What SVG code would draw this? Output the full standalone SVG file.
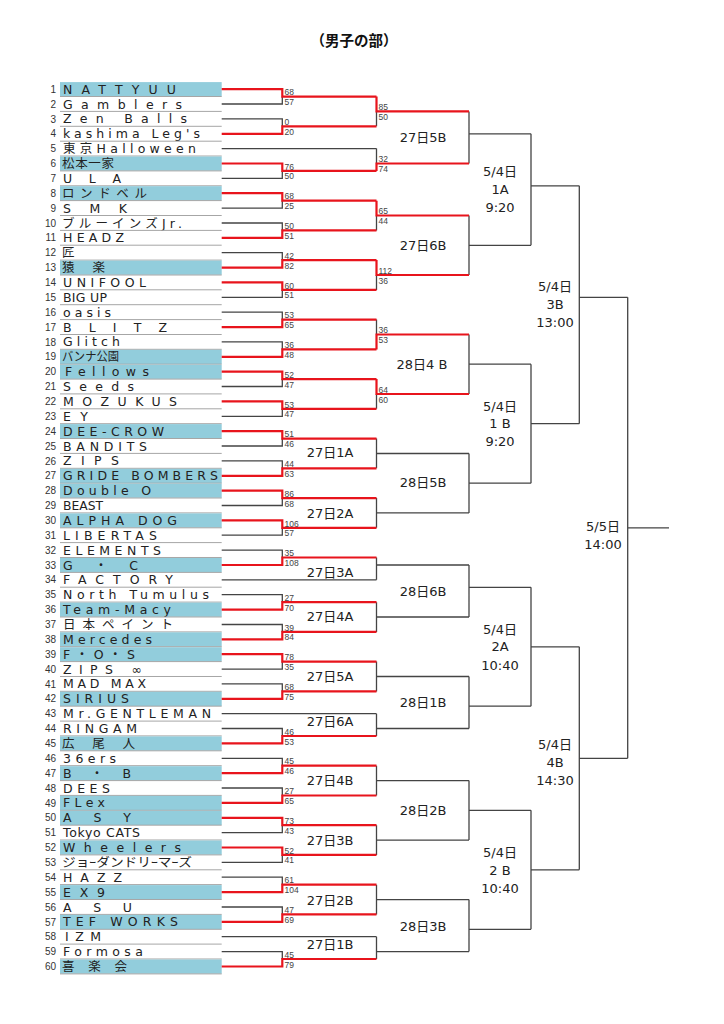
<svg xmlns="http://www.w3.org/2000/svg" width="724" height="1024" viewBox="0 0 724 1024">
<style>
.n{font-family:"Liberation Sans",sans-serif;font-size:10px;fill:#333;text-anchor:end}
.t{font-family:"DejaVu Sans","Noto Sans CJK JP",sans-serif;font-size:12.5px;fill:#222}
.s{font-family:"Liberation Sans",sans-serif;font-size:8.5px;fill:#444}
.l{font-family:"DejaVu Sans","Noto Sans CJK JP",sans-serif;font-size:13px;fill:#222;text-anchor:middle}
.hl{fill:#92cddc}
.sep{stroke:#a6a6a6;stroke-width:1}
.blk{stroke:#444;stroke-width:1.3;fill:none}
.red{stroke:#e8141c;stroke-width:2.2;fill:none}
</style>
<rect width="724" height="1024" fill="#fff"/>
<text x="354" y="45.5" text-anchor="middle" font-family="'Noto Sans CJK JP',sans-serif" font-weight="bold" font-size="14.5" fill="#111">（男子の部）</text>

<g id="teams">
<g id="team-1" transform="translate(0,89.1)"><rect class="hl" x="60" y="-7" width="161.7" height="14.2"/><text class="n" x="56" y="3.6">1</text><text class="t" x="63" y="4.5" textLength="113" lengthAdjust="spacing">NATTYUU</text><line class="sep" x1="60" x2="221.7" y1="7.4" y2="7.4"/></g>
<g id="team-2" transform="translate(0,104.0)"><text class="n" x="56" y="3.6">2</text><text class="t" x="63" y="4.5" textLength="119" lengthAdjust="spacing">Gamblers</text><line class="sep" x1="60" x2="221.7" y1="7.4" y2="7.4"/></g>
<g id="team-3" transform="translate(0,118.9)"><text class="n" x="56" y="3.6">3</text><text class="t" x="63" y="4.5" textLength="124" lengthAdjust="spacing">Zen Balls</text><line class="sep" x1="60" x2="221.7" y1="7.4" y2="7.4"/></g>
<g id="team-4" transform="translate(0,133.8)"><text class="n" x="56" y="3.6">4</text><text class="t" x="63" y="4.5" textLength="137" lengthAdjust="spacing">kashima Leg's</text><line class="sep" x1="60" x2="221.7" y1="7.4" y2="7.4"/></g>
<g id="team-5" transform="translate(0,148.6)"><text class="n" x="56" y="3.6">5</text><text class="t" x="63" y="4.5" textLength="133" lengthAdjust="spacing">東京Halloween</text><line class="sep" x1="60" x2="221.7" y1="7.4" y2="7.4"/></g>
<g id="team-6" transform="translate(0,163.5)"><rect class="hl" x="60" y="-7" width="161.7" height="14.2"/><text class="n" x="56" y="3.6">6</text><text class="t" x="62" y="4.5" textLength="52" lengthAdjust="spacing">松本一家</text><line class="sep" x1="60" x2="221.7" y1="7.4" y2="7.4"/></g>
<g id="team-7" transform="translate(0,178.4)"><text class="n" x="56" y="3.6">7</text><text class="t" x="63" y="4.5" textLength="58" lengthAdjust="spacing">ULA</text><line class="sep" x1="60" x2="221.7" y1="7.4" y2="7.4"/></g>
<g id="team-8" transform="translate(0,193.2)"><rect class="hl" x="60" y="-7" width="161.7" height="14.2"/><text class="n" x="56" y="3.6">8</text><text class="t" x="62" y="4.5" textLength="85" lengthAdjust="spacing">ロンドベル</text><line class="sep" x1="60" x2="221.7" y1="7.4" y2="7.4"/></g>
<g id="team-9" transform="translate(0,208.1)"><text class="n" x="56" y="3.6">9</text><text class="t" x="63" y="4.5" textLength="64" lengthAdjust="spacing">SMK</text><line class="sep" x1="60" x2="221.7" y1="7.4" y2="7.4"/></g>
<g id="team-10" transform="translate(0,223.0)"><text class="n" x="56" y="3.6">10</text><text class="t" x="62" y="4.5" textLength="120" lengthAdjust="spacing">ブルーインズJr.</text><line class="sep" x1="60" x2="221.7" y1="7.4" y2="7.4"/></g>
<g id="team-11" transform="translate(0,237.8)"><text class="n" x="56" y="3.6">11</text><text class="t" x="63" y="4.5" textLength="61" lengthAdjust="spacing">HEADZ</text><line class="sep" x1="60" x2="221.7" y1="7.4" y2="7.4"/></g>
<g id="team-12" transform="translate(0,252.7)"><text class="n" x="56" y="3.6">12</text><text class="t" x="62" y="4.5">匠</text><line class="sep" x1="60" x2="221.7" y1="7.4" y2="7.4"/></g>
<g id="team-13" transform="translate(0,267.6)"><rect class="hl" x="60" y="-7" width="161.7" height="14.2"/><text class="n" x="56" y="3.6">13</text><text class="t" x="62" y="4.5" textLength="43" lengthAdjust="spacing">猿　楽</text><line class="sep" x1="60" x2="221.7" y1="7.4" y2="7.4"/></g>
<g id="team-14" transform="translate(0,282.4)"><text class="n" x="56" y="3.6">14</text><text class="t" x="63" y="4.5" textLength="83" lengthAdjust="spacing">UNIFOOL</text><line class="sep" x1="60" x2="221.7" y1="7.4" y2="7.4"/></g>
<g id="team-15" transform="translate(0,297.3)"><text class="n" x="56" y="3.6">15</text><text class="t" x="63" y="4.5" textLength="44" lengthAdjust="spacing">BIG UP</text><line class="sep" x1="60" x2="221.7" y1="7.4" y2="7.4"/></g>
<g id="team-16" transform="translate(0,312.2)"><text class="n" x="56" y="3.6">16</text><text class="t" x="63" y="4.5" textLength="48" lengthAdjust="spacing">oasis</text><line class="sep" x1="60" x2="221.7" y1="7.4" y2="7.4"/></g>
<g id="team-17" transform="translate(0,327.1)"><text class="n" x="56" y="3.6">17</text><text class="t" x="63" y="4.5" textLength="104" lengthAdjust="spacing">BLITZ</text><line class="sep" x1="60" x2="221.7" y1="7.4" y2="7.4"/></g>
<g id="team-18" transform="translate(0,341.9)"><text class="n" x="56" y="3.6">18</text><text class="t" x="63" y="4.5" textLength="57" lengthAdjust="spacing">Glitch</text><line class="sep" x1="60" x2="221.7" y1="7.4" y2="7.4"/></g>
<g id="team-19" transform="translate(0,356.8)"><rect class="hl" x="60" y="-7" width="161.7" height="14.2"/><text class="n" x="56" y="3.6">19</text><text class="t" x="62" y="4.5" textLength="57" lengthAdjust="spacingAndGlyphs">バンナ公園</text><line class="sep" x1="60" x2="221.7" y1="7.4" y2="7.4"/></g>
<g id="team-20" transform="translate(0,371.7)"><rect class="hl" x="60" y="-7" width="161.7" height="14.2"/><text class="n" x="56" y="3.6">20</text><text class="t" x="65" y="4.5" textLength="84" lengthAdjust="spacing">Fellows</text><line class="sep" x1="60" x2="221.7" y1="7.4" y2="7.4"/></g>
<g id="team-21" transform="translate(0,386.5)"><text class="n" x="56" y="3.6">21</text><text class="t" x="63" y="4.5" textLength="71" lengthAdjust="spacing">Seeds</text><line class="sep" x1="60" x2="221.7" y1="7.4" y2="7.4"/></g>
<g id="team-22" transform="translate(0,401.4)"><text class="n" x="56" y="3.6">22</text><text class="t" x="63" y="4.5" textLength="114" lengthAdjust="spacing">MOZUKUS</text><line class="sep" x1="60" x2="221.7" y1="7.4" y2="7.4"/></g>
<g id="team-23" transform="translate(0,416.3)"><text class="n" x="56" y="3.6">23</text><text class="t" x="63" y="4.5" textLength="25" lengthAdjust="spacing">EY</text><line class="sep" x1="60" x2="221.7" y1="7.4" y2="7.4"/></g>
<g id="team-24" transform="translate(0,431.1)"><rect class="hl" x="60" y="-7" width="161.7" height="14.2"/><text class="n" x="56" y="3.6">24</text><text class="t" x="63" y="4.5" textLength="101" lengthAdjust="spacing">DEE-CROW</text><line class="sep" x1="60" x2="221.7" y1="7.4" y2="7.4"/></g>
<g id="team-25" transform="translate(0,446.0)"><text class="n" x="56" y="3.6">25</text><text class="t" x="63" y="4.5" textLength="84" lengthAdjust="spacing">BANDITS</text><line class="sep" x1="60" x2="221.7" y1="7.4" y2="7.4"/></g>
<g id="team-26" transform="translate(0,460.9)"><text class="n" x="56" y="3.6">26</text><text class="t" x="63" y="4.5" textLength="56" lengthAdjust="spacing">ZIPS</text><line class="sep" x1="60" x2="221.7" y1="7.4" y2="7.4"/></g>
<g id="team-27" transform="translate(0,475.8)"><rect class="hl" x="60" y="-7" width="161.7" height="14.2"/><text class="n" x="56" y="3.6">27</text><text class="t" x="63" y="4.5" textLength="155" lengthAdjust="spacing">GRIDE BOMBERS</text><line class="sep" x1="60" x2="221.7" y1="7.4" y2="7.4"/></g>
<g id="team-28" transform="translate(0,490.6)"><rect class="hl" x="60" y="-7" width="161.7" height="14.2"/><text class="n" x="56" y="3.6">28</text><text class="t" x="63" y="4.5" textLength="88" lengthAdjust="spacing">Double O</text><line class="sep" x1="60" x2="221.7" y1="7.4" y2="7.4"/></g>
<g id="team-29" transform="translate(0,505.5)"><text class="n" x="56" y="3.6">29</text><text class="t" x="63" y="4.5" textLength="40" lengthAdjust="spacingAndGlyphs">BEAST</text><line class="sep" x1="60" x2="221.7" y1="7.4" y2="7.4"/></g>
<g id="team-30" transform="translate(0,520.4)"><rect class="hl" x="60" y="-7" width="161.7" height="14.2"/><text class="n" x="56" y="3.6">30</text><text class="t" x="63" y="4.5" textLength="114" lengthAdjust="spacing">ALPHA DOG</text><line class="sep" x1="60" x2="221.7" y1="7.4" y2="7.4"/></g>
<g id="team-31" transform="translate(0,535.2)"><text class="n" x="56" y="3.6">31</text><text class="t" x="63" y="4.5" textLength="94" lengthAdjust="spacing">LIBERTAS</text><line class="sep" x1="60" x2="221.7" y1="7.4" y2="7.4"/></g>
<g id="team-32" transform="translate(0,550.1)"><text class="n" x="56" y="3.6">32</text><text class="t" x="63" y="4.5" textLength="98" lengthAdjust="spacing">ELEMENTS</text><line class="sep" x1="60" x2="221.7" y1="7.4" y2="7.4"/></g>
<g id="team-33" transform="translate(0,565.0)"><rect class="hl" x="60" y="-7" width="161.7" height="14.2"/><text class="n" x="56" y="3.6">33</text><text class="t" x="63" y="4.5" textLength="75" lengthAdjust="spacing">G・C</text><line class="sep" x1="60" x2="221.7" y1="7.4" y2="7.4"/></g>
<g id="team-34" transform="translate(0,579.8)"><text class="n" x="56" y="3.6">34</text><text class="t" x="63" y="4.5" textLength="110" lengthAdjust="spacing">FACTORY</text><line class="sep" x1="60" x2="221.7" y1="7.4" y2="7.4"/></g>
<g id="team-35" transform="translate(0,594.7)"><text class="n" x="56" y="3.6">35</text><text class="t" x="63" y="4.5" textLength="146" lengthAdjust="spacing">North Tumulus</text><line class="sep" x1="60" x2="221.7" y1="7.4" y2="7.4"/></g>
<g id="team-36" transform="translate(0,609.6)"><rect class="hl" x="60" y="-7" width="161.7" height="14.2"/><text class="n" x="56" y="3.6">36</text><text class="t" x="63" y="4.5" textLength="108" lengthAdjust="spacing">Team-Macy</text><line class="sep" x1="60" x2="221.7" y1="7.4" y2="7.4"/></g>
<g id="team-37" transform="translate(0,624.5)"><text class="n" x="56" y="3.6">37</text><text class="t" x="63" y="4.5" textLength="110" lengthAdjust="spacing">日本ペイント</text><line class="sep" x1="60" x2="221.7" y1="7.4" y2="7.4"/></g>
<g id="team-38" transform="translate(0,639.3)"><rect class="hl" x="60" y="-7" width="161.7" height="14.2"/><text class="n" x="56" y="3.6">38</text><text class="t" x="63" y="4.5" textLength="89" lengthAdjust="spacing">Mercedes</text><line class="sep" x1="60" x2="221.7" y1="7.4" y2="7.4"/></g>
<g id="team-39" transform="translate(0,654.2)"><rect class="hl" x="60" y="-7" width="161.7" height="14.2"/><text class="n" x="56" y="3.6">39</text><text class="t" x="63" y="4.5" textLength="72" lengthAdjust="spacing">F・O・S</text><line class="sep" x1="60" x2="221.7" y1="7.4" y2="7.4"/></g>
<g id="team-40" transform="translate(0,669.1)"><text class="n" x="56" y="3.6">40</text><text class="t" x="63" y="4.5" textLength="79" lengthAdjust="spacing">ZIPS ∞</text><line class="sep" x1="60" x2="221.7" y1="7.4" y2="7.4"/></g>
<g id="team-41" transform="translate(0,683.9)"><text class="n" x="56" y="3.6">41</text><text class="t" x="63" y="4.5" textLength="83" lengthAdjust="spacing">MAD MAX</text><line class="sep" x1="60" x2="221.7" y1="7.4" y2="7.4"/></g>
<g id="team-42" transform="translate(0,698.8)"><rect class="hl" x="60" y="-7" width="161.7" height="14.2"/><text class="n" x="56" y="3.6">42</text><text class="t" x="63" y="4.5" textLength="66" lengthAdjust="spacing">SIRIUS</text><line class="sep" x1="60" x2="221.7" y1="7.4" y2="7.4"/></g>
<g id="team-43" transform="translate(0,713.7)"><text class="n" x="56" y="3.6">43</text><text class="t" x="63" y="4.5" textLength="148" lengthAdjust="spacing">Mr.GENTLEMAN</text><line class="sep" x1="60" x2="221.7" y1="7.4" y2="7.4"/></g>
<g id="team-44" transform="translate(0,728.5)"><text class="n" x="56" y="3.6">44</text><text class="t" x="63" y="4.5" textLength="74" lengthAdjust="spacing">RINGAM</text><line class="sep" x1="60" x2="221.7" y1="7.4" y2="7.4"/></g>
<g id="team-45" transform="translate(0,743.4)"><rect class="hl" x="60" y="-7" width="161.7" height="14.2"/><text class="n" x="56" y="3.6">45</text><text class="t" x="62" y="4.5" textLength="73" lengthAdjust="spacing">広　尾　人</text><line class="sep" x1="60" x2="221.7" y1="7.4" y2="7.4"/></g>
<g id="team-46" transform="translate(0,758.3)"><text class="n" x="56" y="3.6">46</text><text class="t" x="63" y="4.5" textLength="53" lengthAdjust="spacing">36ers</text><line class="sep" x1="60" x2="221.7" y1="7.4" y2="7.4"/></g>
<g id="team-47" transform="translate(0,773.2)"><rect class="hl" x="60" y="-7" width="161.7" height="14.2"/><text class="n" x="56" y="3.6">47</text><text class="t" x="63" y="4.5" textLength="68" lengthAdjust="spacing">B・B</text><line class="sep" x1="60" x2="221.7" y1="7.4" y2="7.4"/></g>
<g id="team-48" transform="translate(0,788.0)"><text class="n" x="56" y="3.6">48</text><text class="t" x="63" y="4.5" textLength="47" lengthAdjust="spacing">DEES</text><line class="sep" x1="60" x2="221.7" y1="7.4" y2="7.4"/></g>
<g id="team-49" transform="translate(0,802.9)"><rect class="hl" x="60" y="-7" width="161.7" height="14.2"/><text class="n" x="56" y="3.6">49</text><text class="t" x="63" y="4.5" textLength="42" lengthAdjust="spacing">FLex</text><line class="sep" x1="60" x2="221.7" y1="7.4" y2="7.4"/></g>
<g id="team-50" transform="translate(0,817.8)"><rect class="hl" x="60" y="-7" width="161.7" height="14.2"/><text class="n" x="56" y="3.6">50</text><text class="t" x="63" y="4.5" textLength="68" lengthAdjust="spacing">ASY</text><line class="sep" x1="60" x2="221.7" y1="7.4" y2="7.4"/></g>
<g id="team-51" transform="translate(0,832.6)"><text class="n" x="56" y="3.6">51</text><text class="t" x="63" y="4.5" textLength="77" lengthAdjust="spacing">Tokyo CATS</text><line class="sep" x1="60" x2="221.7" y1="7.4" y2="7.4"/></g>
<g id="team-52" transform="translate(0,847.5)"><rect class="hl" x="60" y="-7" width="161.7" height="14.2"/><text class="n" x="56" y="3.6">52</text><text class="t" x="63" y="4.5" textLength="118" lengthAdjust="spacing">Wheelers</text><line class="sep" x1="60" x2="221.7" y1="7.4" y2="7.4"/></g>
<g id="team-53" transform="translate(0,862.4)"><text class="n" x="56" y="3.6">53</text><text class="t" x="62" y="4.5" textLength="130" lengthAdjust="spacingAndGlyphs">ジョｰダンドリｰマｰズ</text><line class="sep" x1="60" x2="221.7" y1="7.4" y2="7.4"/></g>
<g id="team-54" transform="translate(0,877.2)"><text class="n" x="56" y="3.6">54</text><text class="t" x="63" y="4.5" textLength="59" lengthAdjust="spacing">HAZZ</text><line class="sep" x1="60" x2="221.7" y1="7.4" y2="7.4"/></g>
<g id="team-55" transform="translate(0,892.1)"><rect class="hl" x="60" y="-7" width="161.7" height="14.2"/><text class="n" x="56" y="3.6">55</text><text class="t" x="63" y="4.5" textLength="42" lengthAdjust="spacing">EX9</text><line class="sep" x1="60" x2="221.7" y1="7.4" y2="7.4"/></g>
<g id="team-56" transform="translate(0,907.0)"><text class="n" x="56" y="3.6">56</text><text class="t" x="63" y="4.5" textLength="69" lengthAdjust="spacing">ASU</text><line class="sep" x1="60" x2="221.7" y1="7.4" y2="7.4"/></g>
<g id="team-57" transform="translate(0,921.9)"><rect class="hl" x="60" y="-7" width="161.7" height="14.2"/><text class="n" x="56" y="3.6">57</text><text class="t" x="63" y="4.5" textLength="115" lengthAdjust="spacing">TEF WORKS</text><line class="sep" x1="60" x2="221.7" y1="7.4" y2="7.4"/></g>
<g id="team-58" transform="translate(0,936.7)"><text class="n" x="56" y="3.6">58</text><text class="t" x="65" y="4.5" textLength="36" lengthAdjust="spacing">IZM</text><line class="sep" x1="60" x2="221.7" y1="7.4" y2="7.4"/></g>
<g id="team-59" transform="translate(0,951.6)"><text class="n" x="56" y="3.6">59</text><text class="t" x="63" y="4.5" textLength="80" lengthAdjust="spacing">Formosa</text><line class="sep" x1="60" x2="221.7" y1="7.4" y2="7.4"/></g>
<g id="team-60" transform="translate(0,966.5)"><rect class="hl" x="60" y="-7" width="161.7" height="14.2"/><text class="n" x="56" y="3.6">60</text><text class="t" x="62" y="4.5" textLength="65" lengthAdjust="spacing">喜　楽　会</text><line class="sep" x1="60" x2="221.7" y1="7.4" y2="7.4"/></g>
</g>

<g id="connectors">
<path class="blk" d="
M221.7,104.0H282.3V96.6 M221.7,118.9H282.3V126.3 M221.7,148.6H376.5 M221.7,178.4H282.3V170.9
M221.7,208.1H282.3V200.7 M221.7,223.0H282.3V230.4 M221.7,252.7H282.3V260.1 M221.7,297.3H282.3V289.9
M221.7,312.2H282.3V319.6 M221.7,341.9H282.3V349.4 M221.7,386.5H282.3V379.1 M221.7,416.3H282.3V408.8
M221.7,446.0H282.3V438.6 M221.7,460.9H282.3V468.3 M221.7,505.5H282.3V498.1 M221.7,535.2H282.3V527.8
M221.7,550.1H282.3V557.5 M221.7,579.8H376.5 M221.7,594.7H282.3V602.2 M221.7,624.5H282.3V631.9
M221.7,669.1H282.3V661.6 M221.7,683.9H282.3V691.4 M221.7,713.7H376.5 M221.7,728.5H282.3V736.0
M221.7,758.3H282.3V765.7 M221.7,788.0H282.3V795.5 M221.7,832.6H282.3V825.2 M221.7,862.4H282.3V854.9
M221.7,877.2H282.3V884.7 M221.7,907.0H282.3V914.4 M221.7,936.7H376.5 M221.7,951.6H282.3V959.0
M376.5,111.4V126.3 M376.5,148.6V163.5 M376.5,215.5V230.4 M376.5,275.0V289.9 M376.5,319.6V334.5 M376.5,394.0V408.8
M376.5,438.6V468.3 M376.5,453.5H469
M376.5,498.1V527.8 M376.5,512.9H469
M376.5,557.5V579.8 M376.5,565.0H469
M376.5,602.2V631.9 M376.5,617.0H469
M376.5,661.6V691.4 M376.5,676.5H469
M376.5,713.7V736.0 M376.5,728.5H469
M376.5,765.7V795.5 M376.5,780.6H469
M376.5,825.2V854.9 M376.5,840.1H469
M376.5,884.7V914.4 M376.5,899.6H469
M376.5,936.7V959.0 M376.5,951.6H469
M469,111.4V163.5 M469,133.8H531
M469,215.5V275.0 M469,245.3H531
M469,334.5V394.0 M469,364.2H531
M469,453.5V512.9 M469,483.2H531
M469,565.0V617.0 M469,587.3H531
M469,676.5V728.5 M469,706.2H531
M469,780.6V840.1 M469,810.3H531
M469,899.6V951.6 M469,929.3H531
M531,133.8V245.3 M531,185.8H579.3
M531,364.2V483.2 M531,423.7H579.3
M531,587.3V706.2 M531,646.8H579.3
M531,810.3V929.3 M531,869.8H579.3
M579.3,185.8V423.7 M579.3,297.3H627.7
M579.3,646.8V869.8 M579.3,758.3H627.7
M627.7,297.3V758.3 M627.7,527.8H669"/>
<path class="red" d="
M221.7,89.1H282.3V96.6H376.5 M221.7,133.8H282.3V126.3H376.5 M221.7,163.5H282.3V170.9H376.5
M221.7,193.2H282.3V200.7H376.5 M221.7,237.8H282.3V230.4H376.5 M221.7,267.6H282.3V260.1H376.5
M221.7,282.4H282.3V289.9H376.5 M221.7,327.1H282.3V319.6H376.5 M221.7,356.8H282.3V349.4H376.5
M221.7,371.7H282.3V379.1H376.5 M221.7,401.4H282.3V408.8H376.5 M221.7,431.1H282.3V438.6H376.5
M221.7,475.8H282.3V468.3H376.5 M221.7,490.6H282.3V498.1H376.5 M221.7,520.4H282.3V527.8H376.5
M221.7,565.0H282.3V557.5H376.5 M221.7,609.6H282.3V602.2H376.5 M221.7,639.3H282.3V631.9H376.5
M221.7,654.2H282.3V661.6H376.5 M221.7,698.8H282.3V691.4H376.5 M221.7,743.4H282.3V736.0H376.5
M221.7,773.2H282.3V765.7H376.5 M221.7,802.9H282.3V795.5H376.5 M221.7,817.8H282.3V825.2H376.5
M221.7,847.5H282.3V854.9H376.5 M221.7,892.1H282.3V884.7H376.5 M221.7,921.9H282.3V914.4H376.5
M221.7,966.5H282.3V959.0H376.5
M376.5,96.6V111.4H469 M376.5,170.9V163.5H469 M376.5,200.7V215.5H469
M376.5,260.1V275.0H469 M376.5,349.4V334.5H469 M376.5,379.1V394.0H469"/>
</g>

<g id="scores">
<text class="s" x="284.5" y="95.3">68</text><text class="s" x="284.5" y="105.1">57</text>
<text class="s" x="284.5" y="125.0">0</text><text class="s" x="284.5" y="134.8">20</text>
<text class="s" x="284.5" y="169.6">76</text><text class="s" x="284.5" y="179.4">50</text>
<text class="s" x="284.5" y="199.4">68</text><text class="s" x="284.5" y="209.2">25</text>
<text class="s" x="284.5" y="229.1">50</text><text class="s" x="284.5" y="238.9">51</text>
<text class="s" x="284.5" y="258.8">42</text><text class="s" x="284.5" y="268.6">82</text>
<text class="s" x="284.5" y="288.6">60</text><text class="s" x="284.5" y="298.4">51</text>
<text class="s" x="284.5" y="318.3">53</text><text class="s" x="284.5" y="328.1">65</text>
<text class="s" x="284.5" y="348.1">36</text><text class="s" x="284.5" y="357.9">48</text>
<text class="s" x="284.5" y="377.8">52</text><text class="s" x="284.5" y="387.6">47</text>
<text class="s" x="284.5" y="407.5">53</text><text class="s" x="284.5" y="417.3">47</text>
<text class="s" x="284.5" y="437.3">51</text><text class="s" x="284.5" y="447.1">46</text>
<text class="s" x="284.5" y="467.0">44</text><text class="s" x="284.5" y="476.8">63</text>
<text class="s" x="284.5" y="496.8">86</text><text class="s" x="284.5" y="506.6">68</text>
<text class="s" x="284.5" y="526.5">106</text><text class="s" x="284.5" y="536.3">57</text>
<text class="s" x="284.5" y="556.2">35</text><text class="s" x="284.5" y="566.0">108</text>
<text class="s" x="284.5" y="600.9">27</text><text class="s" x="284.5" y="610.7">70</text>
<text class="s" x="284.5" y="630.6">39</text><text class="s" x="284.5" y="640.4">84</text>
<text class="s" x="284.5" y="660.3">78</text><text class="s" x="284.5" y="670.1">35</text>
<text class="s" x="284.5" y="690.1">68</text><text class="s" x="284.5" y="699.9">75</text>
<text class="s" x="284.5" y="734.7">46</text><text class="s" x="284.5" y="744.5">53</text>
<text class="s" x="284.5" y="764.4">45</text><text class="s" x="284.5" y="774.2">46</text>
<text class="s" x="284.5" y="794.2">27</text><text class="s" x="284.5" y="804.0">65</text>
<text class="s" x="284.5" y="823.9">73</text><text class="s" x="284.5" y="833.7">43</text>
<text class="s" x="284.5" y="853.6">52</text><text class="s" x="284.5" y="863.4">41</text>
<text class="s" x="284.5" y="883.4">61</text><text class="s" x="284.5" y="893.2">104</text>
<text class="s" x="284.5" y="913.1">47</text><text class="s" x="284.5" y="922.9">69</text>
<text class="s" x="284.5" y="957.7">45</text><text class="s" x="284.5" y="967.5">79</text>
<text class="s" x="378.5" y="110.1">85</text><text class="s" x="378.5" y="119.9">50</text>
<text class="s" x="378.5" y="162.2">32</text><text class="s" x="378.5" y="172.0">74</text>
<text class="s" x="378.5" y="214.2">65</text><text class="s" x="378.5" y="224.0">44</text>
<text class="s" x="378.5" y="273.7">112</text><text class="s" x="378.5" y="283.5">36</text>
<text class="s" x="378.5" y="333.2">36</text><text class="s" x="378.5" y="343.0">53</text>
<text class="s" x="378.5" y="392.7">64</text><text class="s" x="378.5" y="402.5">60</text>
</g>

<g id="match-27-5B"><text class="l" x="423" y="142">27日5B</text></g>
<g id="match-27-6B"><text class="l" x="423" y="249.7">27日6B</text></g>
<g id="match-28-4B"><text class="l" x="422" y="368.7">28日4 B</text></g>
<g id="match-28-5B"><text class="l" x="423" y="487.4">28日5B</text></g>
<g id="match-28-6B"><text class="l" x="423" y="595.7">28日6B</text></g>
<g id="match-28-1B"><text class="l" x="423" y="707.4">28日1B</text></g>
<g id="match-28-2B"><text class="l" x="423" y="815.4">28日2B</text></g>
<g id="match-28-3B"><text class="l" x="423" y="930.7">28日3B</text></g>
<g id="match-27-1A"><text class="l" x="330" y="457.4">27日1A</text></g>
<g id="match-27-2A"><text class="l" x="330" y="518">27日2A</text></g>
<g id="match-27-3A"><text class="l" x="330" y="577">27日3A</text></g>
<g id="match-27-4A"><text class="l" x="330" y="621.4">27日4A</text></g>
<g id="match-27-5A"><text class="l" x="330" y="680.7">27日5A</text></g>
<g id="match-27-6A"><text class="l" x="330" y="726.4">27日6A</text></g>
<g id="match-27-4B"><text class="l" x="330" y="785.4">27日4B</text></g>
<g id="match-27-3B"><text class="l" x="330" y="844.7">27日3B</text></g>
<g id="match-27-2B"><text class="l" x="330" y="904.7">27日2B</text></g>
<g id="match-27-1B"><text class="l" x="330" y="949.4">27日1B</text></g>
<g id="match-1A"><text class="l" x="500" y="176.4">5/4日<tspan x="500" y="194">1A</tspan><tspan x="500" y="212.4">9:20</tspan></text></g>
<g id="match-1B"><text class="l" x="500" y="410.7">5/4日<tspan x="500" y="428">1 B</tspan><tspan x="500" y="446.4">9:20</tspan></text></g>
<g id="match-2A"><text class="l" x="500" y="633.7">5/4日<tspan x="500" y="651.4">2A</tspan><tspan x="500" y="669.7">10:40</tspan></text></g>
<g id="match-2B"><text class="l" x="500" y="857.4">5/4日<tspan x="500" y="874.7">2 B</tspan><tspan x="500" y="893">10:40</tspan></text></g>
<g id="match-3B"><text class="l" x="555" y="291.4">5/4日<tspan x="555" y="309">3B</tspan><tspan x="555" y="327">13:00</tspan></text></g>
<g id="match-4B"><text class="l" x="555" y="749">5/4日<tspan x="555" y="767">4B</tspan><tspan x="555" y="784.7">14:30</tspan></text></g>
<g id="match-final"><text class="l" x="603" y="531.4">5/5日<tspan x="603" y="549">14:00</tspan></text></g>
</svg>
